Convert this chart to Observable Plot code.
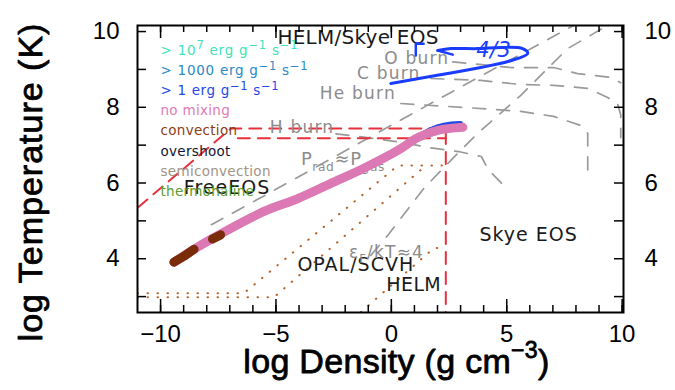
<!DOCTYPE html>
<html><head><meta charset="utf-8">
<script src="https://cdn.jsdelivr.net/npm/d3@7"></script>
<script src="https://cdn.jsdelivr.net/npm/@observablehq/plot@0.6"></script>
<style>
body{margin:0;background:#fff;}
#chart svg{display:block;}
</style></head><body><div id="chart"></div>
<script>
// ---- data (log Density, log Temperature) ----
const noMixRho = [-9.42,-8.55,-7.68,-5.52,-4.05,-2.62,-1.19,0.28,1.15,2.01,3.10];
const noMixT   = [3.91,4.25,4.56,5.25,5.59,5.99,6.39,6.86,7.20,7.39,7.47];
const conv1Rho = [-9.42,-9.0,-8.55];
const conv1T   = [3.91,4.06,4.25];
const conv2Rho = [-7.75,-7.4];
const conv2T   = [4.52,4.63];
const edgeRho  = [0.7,1.3,2.0,2.6,3.0];
const edgeT    = [7.02,7.28,7.48,7.56,7.57];
const burnRho  = [-0.02,1.93,3.87,5.17,5.91,5.69,4.74,3.74,2.58,2.01];
const burnT    = [8.63,8.84,9.05,9.23,9.42,9.55,9.58,9.55,9.55,9.50];
const stubRho  = [1.4,1.06,1.06];
const stubT    = [9.68,9.68,9.37];
const hookRho  = [2.01,2.66];
const hookT    = [9.50,9.39];

const freeARho = [-10.97,-6.95,2.36,2.36];
const freeAT   = [5.36,7.44,7.44,2.58];
const freeBRho = [-6.65,2.36];
const freeBT   = [7.18,7.18];

const opalARho = [-11,-6.39,0.28,2.36];
const opalAT   = [3.09,3.09,6.46,6.46];
const opalBRho = [-11,-5.09,1.49];
const opalBT   = [2.98,2.98,6.46];
const opalCRho = [-1.32,1.84,2.36];
const opalCT   = [2.59,4.28,4.30];

const pradRho  = [-7.8,-5.1,-2.5,0.1,2.6,7.9];
const pradT    = [4.9,5.8,6.68,7.56,8.4,10.16];
const degenRho = [-0.89,-0.15,1.41,2.58,3.74,5.60,7.64,9.37];
const degenT   = [4.09,4.62,5.86,6.60,7.31,8.31,9.55,10.16];
const hBurnRho = [-2.4,-1.3,0.4,1.6,3.0,3.9,4.2,4.8];
const hBurnT   = [7.3,7.22,7.08,6.94,6.82,6.7,6.35,5.98];
const heBurnRho= [0.41,3.31,5.61,7.03,8.2,8.51,8.51];
const heBurnT  = [8.10,7.99,7.89,7.76,7.52,7.31,6.20];
const cBurnRho = [1.71,3.87,5.61,7.03,8.51,9.37,9.8,9.94,9.94];
const cBurnT   = [8.76,8.71,8.60,8.58,8.50,8.26,8.10,7.8,7.2];
const oBurnRho = [2.66,5.17,7.03,8.07,8.77,9.5,9.94];
const oBurnT   = [9.2,9.05,9.05,8.89,8.84,8.79,8.65];

const regionLabels = ["HELM/Skye EOS","FreeEOS","OPAL/SCVH","HELM","Skye EOS"];
const regionRho    = [-1.45,-7.12,-1.54,0.97,5.95];
const regionT      = [9.84,5.88,3.83,3.30,4.62];
const burnLabels   = ["O burn","C burn","He burn","H burn"];
const burnLabRho   = [1.10,-0.11,-1.45,-3.87];
const burnLabT     = [9.29,8.89,8.36,7.47];

const legendLabels = ["> 10^{7} erg g^{−1} s^{−1}","> 1000 erg g^{−1} s^{−1}","> 1 erg g^{−1} s^{−1}",
  "no mixing","convection","overshoot","semiconvection","thermohaline"];
const legendColors = ["#3fe3b8","#2a88c8","#1f48e8","#e07ab8","#8b3c14","#141432","#a09484","#5a9c2e"];

const xTicksMinor = d3.range(-10, 11);
const xTicksMajor = [-10,-5,0,5,10];
const yTicksMinor = d3.range(3, 11);
const yTicksMajor = [4,6,8,10];

const yTitle = "log Temperature (K)";
const xTitle = "log Density (g cm^{−3})";

// ---- build ----
const pts = (xs, ys) => xs.map((x, i) => ({x, y: ys[i]}));
const W = 675, H = 390, ML = 137, MR = 52, MT = 25, MB = 78;
const FW = W - ML - MR, FH = H - MT - MB;

const dashGray = {stroke: "#9a9a9a", strokeWidth: 1.7, strokeDasharray: "13,11", clip: true};
const dotted = {stroke: "#b4642e", strokeWidth: 2, strokeDasharray: "0.5,9.5", strokeLinecap: "round", clip: true};
const redDash = {stroke: "#e8303c", strokeWidth: 2, strokeDasharray: "12,8", clip: true};
const AX = "Liberation Sans";

// letter spacing / total text length per text (applied after rendering)
const spacing = new Map([
  ["FreeEOS", 1.0], ["OPAL/SCVH", 1.0], ["HELM", 0.4], ["Skye EOS", 1.0],
  ["O burn", 1.2], ["C burn", 1.2], ["He burn", 1.2], ["H burn", 1.2],
  ["P_{rad}≈P_{gas}", 0.6], ["ε_{F}/kT≈4", 1.2], ["4/3", 0.5],
  [yTitle, 1.0], [xTitle, 0.3],
  ["no mixing", 0.3], ["convection", 0.3], ["overshoot", 0.3], ["semiconvection", 0.3], ["thermohaline", 0.3]
]);
const lengths = new Map([
  ["HELM/Skye EOS", 161], [legendLabels[0], 137], [legendLabels[1], 147], [legendLabels[2], 118]
]);

const marks = [
  // gray theory lines
  Plot.line(pts(pradRho, pradT), {x: "x", y: "y", ...dashGray}),
  Plot.line(pts(degenRho, degenT), {x: "x", y: "y", ...dashGray}),
  Plot.line(pts(hBurnRho, hBurnT), {x: "x", y: "y", ...dashGray}),
  Plot.line(pts(heBurnRho, heBurnT), {x: "x", y: "y", ...dashGray}),
  Plot.line(pts(cBurnRho, cBurnT), {x: "x", y: "y", ...dashGray}),
  Plot.line(pts(oBurnRho, oBurnT), {x: "x", y: "y", ...dashGray}),
  // EOS boundaries
  Plot.line(pts(opalARho, opalAT), {x: "x", y: "y", ...dotted}),
  Plot.line(pts(opalBRho, opalBT), {x: "x", y: "y", ...dotted}),
  Plot.line(pts(opalCRho, opalCT), {x: "x", y: "y", ...dotted}),
  Plot.line(pts(freeARho, freeAT), {x: "x", y: "y", ...redDash}),
  Plot.line(pts(freeBRho, freeBT), {x: "x", y: "y", ...redDash}),
  // labels
  Plot.text(regionLabels.slice(0, 1), {x: (d, i) => regionRho[i], y: (d, i) => regionT[i], text: d => d,
    fill: "#1a1a1a", fontSize: 20}),
  Plot.text(regionLabels.slice(1), {x: (d, i) => regionRho[i + 1], y: (d, i) => regionT[i + 1], text: d => d,
    fill: "#1a1a1a", fontSize: 19}),
  Plot.text(burnLabels, {x: (d, i) => burnLabRho[i], y: (d, i) => burnLabT[i], text: d => d,
    fill: "#8c8c8c", fontSize: 17}),
  Plot.text(["P_{rad}≈P_{gas}"], {x: -3.92, y: 6.62, text: d => d, textAnchor: "start", fill: "#8c8c8c", fontSize: 18}),
  Plot.text(["ε_{F}/kT≈4"], {x: -1.84, y: 4.17, text: d => d, textAnchor: "start", fill: "#8c8c8c", fontSize: 17}),
  // star track
  Plot.line(pts(edgeRho, edgeT), {x: "x", y: "y", stroke: "#1f48e8", strokeWidth: 5, curve: "catmull-rom"}),
  Plot.line(pts(noMixRho, noMixT), {x: "x", y: "y", stroke: "#dc78b4", strokeWidth: 9, strokeLinecap: "round", curve: "catmull-rom"}),
  Plot.line(pts(conv1Rho, conv1T), {x: "x", y: "y", stroke: "#7a2c0a", strokeWidth: 9, strokeLinecap: "round"}),
  Plot.line(pts(conv2Rho, conv2T), {x: "x", y: "y", stroke: "#7a2c0a", strokeWidth: 9, strokeLinecap: "round"}),
  Plot.line(pts(burnRho, burnT), {x: "x", y: "y", stroke: "#1a3cff", strokeWidth: 3, curve: "catmull-rom"}),
  Plot.line(pts(stubRho, stubT), {x: "x", y: "y", stroke: "#1a3cff", strokeWidth: 2.5}),
  Plot.line(pts(hookRho, hookT), {x: "x", y: "y", stroke: "#1a3cff", strokeWidth: 2.5}),
  Plot.text(["4/3"], {x: 4.44, y: 9.50, text: d => d, fill: "#1a3cff", fontSize: 21, fontStyle: "italic"}),
  // legend
  ...legendLabels.map((lab, i) => Plot.text([lab], {frameAnchor: "top-left", text: d => d, textAnchor: "start",
    dx: 23, dy: 20 + 20.1 * i, fill: legendColors[i], fontSize: 13.5})),
  // ticks
  Plot.tickX(xTicksMinor, {x: d => d, insetTop: FH - 7, stroke: "black", strokeWidth: 1.5}),
  Plot.tickX(xTicksMinor, {x: d => d, insetBottom: FH - 7, stroke: "black", strokeWidth: 1.5}),
  Plot.tickX(xTicksMajor, {x: d => d, insetTop: FH - 13, stroke: "black", strokeWidth: 1.5}),
  Plot.tickX(xTicksMajor, {x: d => d, insetBottom: FH - 13, stroke: "black", strokeWidth: 1.5}),
  Plot.tickY(yTicksMinor, {y: d => d, insetRight: FW - 9, stroke: "black", strokeWidth: 1.5}),
  Plot.tickY(yTicksMinor, {y: d => d, insetLeft: FW - 9, stroke: "black", strokeWidth: 1.5}),
  Plot.axisX(xTicksMajor, {anchor: "bottom", tickSize: 0, tickPadding: 12, fontSize: 24, fontFamily: AX, label: null}),
  Plot.axisY(yTicksMajor, {anchor: "left", tickSize: 0, tickPadding: 18, fontSize: 24, fontFamily: AX, label: null}),
  Plot.axisY(yTicksMajor, {anchor: "right", tickSize: 0, tickPadding: 21, fontSize: 24, fontFamily: AX, label: null}),
  Plot.frame({stroke: "black", strokeWidth: 2}),
  // axis titles
  Plot.text([yTitle], {frameAnchor: "left", text: d => d, rotate: -90, textAnchor: "middle",
    dx: -106, dy: 13, fontSize: 34, fontFamily: AX, fill: "black", stroke: "black", strokeWidth: 0.8}),
  Plot.text([xTitle], {frameAnchor: "bottom", text: d => d, textAnchor: "middle",
    dx: 16, dy: 60, fontSize: 34, fontFamily: AX, fill: "black", stroke: "black", strokeWidth: 0.8})
];

const chart = Plot.plot({
  width: W, height: H,
  marginLeft: ML, marginRight: MR, marginTop: MT, marginBottom: MB,
  x: {domain: [-11, 10.06], axis: null},
  y: {domain: [2.58, 10.16], axis: null},
  style: {fontFamily: "DejaVu Sans", fontSize: "13px", background: "white", color: "black"},
  marks
});
document.getElementById("chart").appendChild(chart);

// letter spacing + super/subscript markup -> tspans
const NS = "http://www.w3.org/2000/svg";
chart.querySelectorAll("text").forEach(el => {
  const s = el.textContent;
  if (spacing.has(s)) el.setAttribute("letter-spacing", spacing.get(s));
  if (lengths.has(s)) { el.setAttribute("textLength", lengths.get(s)); el.setAttribute("lengthAdjust", "spacing"); }
  if (!/[\^_]\{/.test(s)) return;
  const fs = parseFloat(getComputedStyle(el).fontSize) || 13;
  const small = fs < 16;
  el.textContent = "";
  const re = /([\^_])\{([^}]*)\}/g;
  let last = 0, m, shift = 0;
  const add = (txt, size, dy) => {
    const t = document.createElementNS(NS, "tspan");
    t.textContent = txt;
    if (size) t.setAttribute("font-size", size);
    if (dy) t.setAttribute("dy", dy);
    el.appendChild(t);
  };
  while ((m = re.exec(s))) {
    if (m.index > last) { add(s.slice(last, m.index), null, -shift); shift = 0; }
    const d = m[1] === "^" ? -0.42 * fs : 0.32 * fs;
    add(m[2], (small ? 0.85 : 0.68) * fs, d - shift);
    shift = d;
    last = re.lastIndex;
  }
  if (last < s.length) add(s.slice(last), null, -shift);
});
</script>
</body></html>
